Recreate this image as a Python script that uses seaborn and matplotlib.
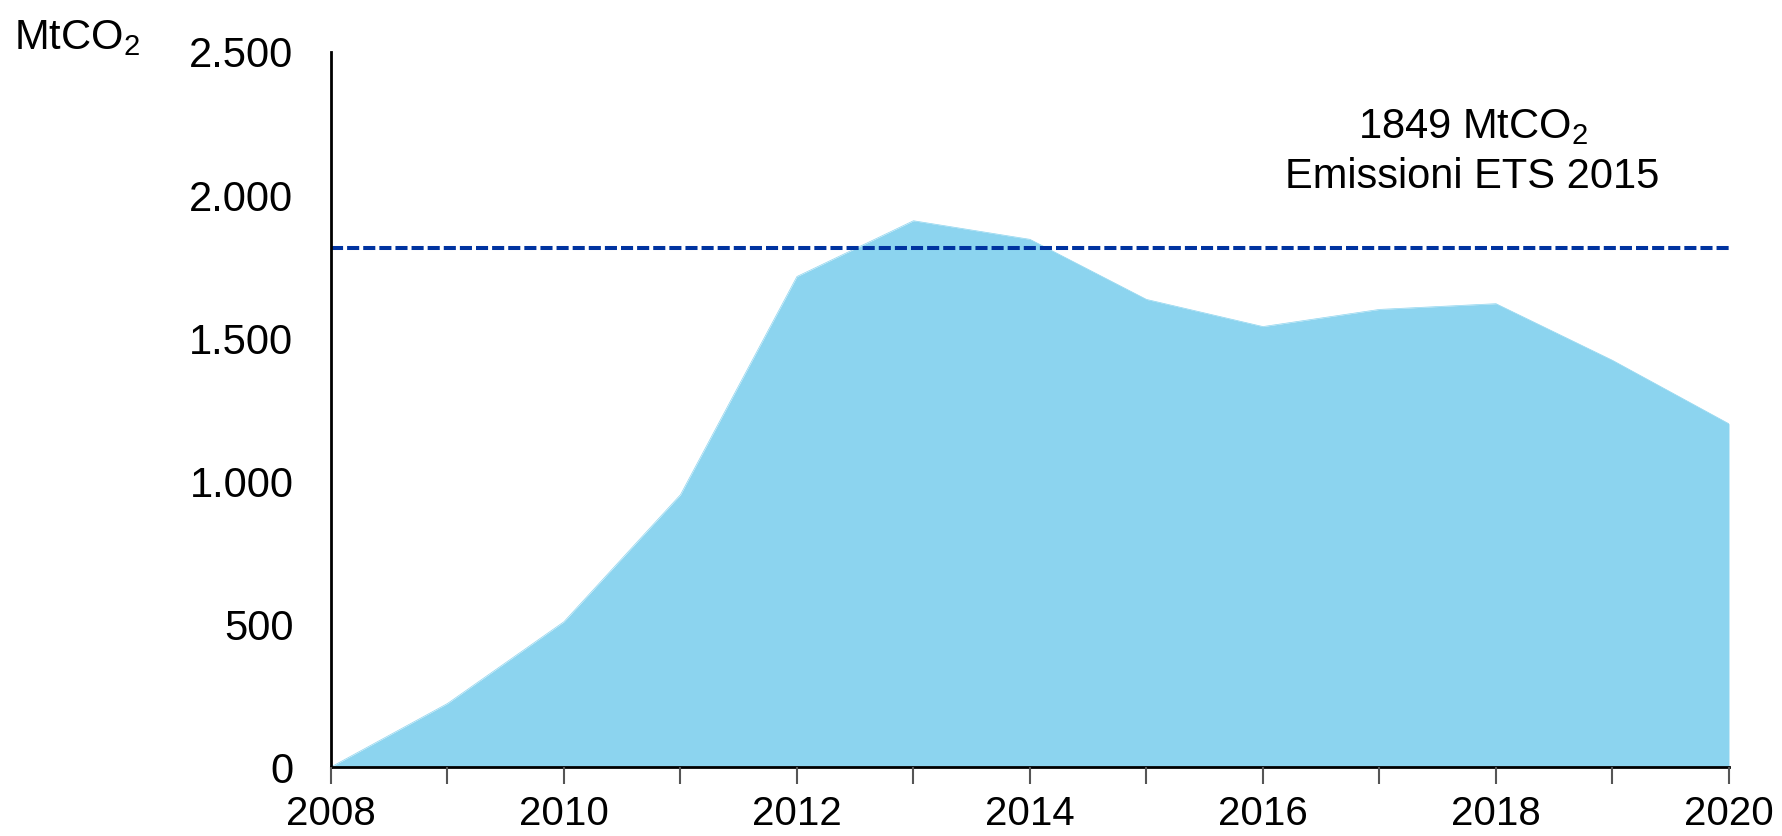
import matplotlib
matplotlib.use("Agg")
import matplotlib.pyplot as plt
from matplotlib.ticker import FuncFormatter, MultipleLocator
import seaborn as sns
import pandas as pd

# emissioni cumulate (MtCO2)
years = [2008, 2009, 2010, 2011, 2012, 2013, 2014, 2015, 2016, 2017, 2018, 2019, 2020]
values = [0, 222, 508, 952, 1715, 1910, 1845, 1635, 1540, 1600, 1620, 1422, 1200]
ets_line = 1815
ets_label = "1849 MtCO$_2$\nEmissioni ETS 2015"
y_ticks = [0, 500, 1000, 1500, 2000, 2500]
x_ticks = [2008, 2010, 2012, 2014, 2016, 2018, 2020]

sns.set_theme(style="white")
plt.rcParams["font.family"] = ["Liberation Sans", "DejaVu Sans"]
plt.rcParams["mathtext.fontset"] = "custom"
plt.rcParams["mathtext.rm"] = "Liberation Sans"
plt.rcParams["mathtext.it"] = "Liberation Sans"
plt.rcParams["mathtext.default"] = "rm"
plt.rcParams["text.color"] = "black"
plt.rcParams["xtick.color"] = "black"
plt.rcParams["ytick.color"] = "black"

fill_color = "#8cd4ef"
line_color = "#0033a0"
fs = 30

df = pd.DataFrame({"anno": years, "mtco2": values})

fig = plt.figure(figsize=(17.83, 8.36), dpi=100)
ax = fig.add_axes([0.1856, 0.0825, 0.7841, 0.8553])

sns.lineplot(data=df, x="anno", y="mtco2", color=fill_color, linewidth=0.5, ax=ax)
ax.fill_between(df["anno"], df["mtco2"], 0, color=fill_color, linewidth=0)
ax.axhline(ets_line, color=line_color, linewidth=2.9, dashes=(3, 1))

ax.text(2017.8, 2150, ets_label, ha="center", va="center", fontsize=fs, linespacing=1.3)
fig.text(0.008, 0.955, "MtCO$_2$", ha="left", va="center", fontsize=fs)

ax.set_xlim(2008, 2020)
ax.set_ylim(0, 2500)
ax.set_xticks(x_ticks)
ax.xaxis.set_minor_locator(MultipleLocator(1))
ax.set_yticks(y_ticks)
ax.yaxis.set_major_formatter(FuncFormatter(lambda v, p: f"{int(v):,}".replace(",", ".")))

ax.tick_params(axis="x", which="both", direction="out", length=12, width=1.5,
               color="#555555", labelsize=29, pad=8, bottom=True, labelcolor="black")
ax.tick_params(axis="y", length=0, labelsize=fs, pad=27, left=False, labelcolor="black")

ax.set_xlabel("")
ax.set_ylabel("")
for side in ["top", "right"]:
    ax.spines[side].set_visible(False)
for side in ["left", "bottom"]:
    ax.spines[side].set_color("black")
    ax.spines[side].set_linewidth(2)
ax.set_axisbelow(False)

fig.savefig("out.png", dpi=100)
